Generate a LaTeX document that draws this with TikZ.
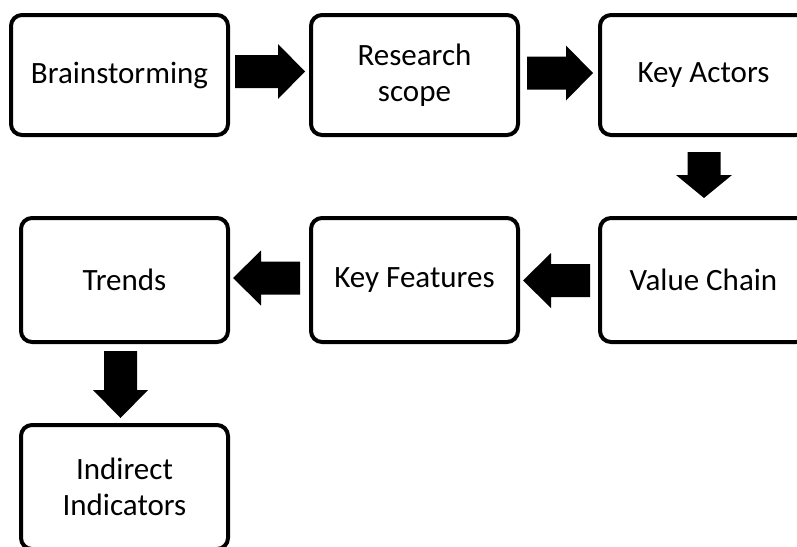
\documentclass[tikz,border=0pt]{standalone}
\usepackage{fontspec}
\setmainfont{Carlito}
\usetikzlibrary{calc}
\begin{document}
\begin{tikzpicture}[x=1pt,y=-1pt,
  stepbox/.style={draw=black, line width=4pt, rounded corners=11pt, fill=white,
    minimum width=207pt, minimum height=124pt, align=center, inner sep=0pt,
    font=\fontsize{31}{36}\selectfont},
  pics/fatarrow/.style n args={3}{code={
    % block arrow: total length #1, head length #2, head half-width #3
    \fill[black] (0,-16.5) -- ({#1-#2},-16.5) -- ({#1-#2},-#3) -- (#1,0)
      -- ({#1-#2},#3) -- ({#1-#2},16.5) -- (0,16.5) -- cycle;}}]
\useasboundingbox (0,0) rectangle (797,546);
\clip (0,0) rectangle (797,546);

% first row
\node[stepbox, minimum width=217pt, minimum height=120pt] (brain) at (119.5,75) {Brainstorming};
\node[stepbox, minimum height=120pt] (scope) at (414.5,75) {Research\\scope};
\node[stepbox, minimum height=120pt] (actors) at (703.5,75) {Key Actors};

% second row
\node[stepbox] (trends) at (124.5,280) {Trends};
\node[stepbox] (features) at (414.5,280) {Key Features};
\node[stepbox] (chain) at (703.5,280) {Value Chain};

% third row
\node[stepbox] (indirect) at (124.5,487) {Indirect\\Indicators};

% block arrows between the steps
\pic at ($(brain.east)+(5,-3.5)$) {fatarrow={70}{27}{27.5}};
\pic at ($(scope.east)+(7,-2)$) {fatarrow={66}{27}{27.5}};
\pic[rotate=-90] at ($(actors.south)+(0.5,15)$) {fatarrow={46}{23}{28}};
\pic[rotate=180] at ($(chain.west)+(-8,0.5)$) {fatarrow={67}{28}{27.5}};
\pic[rotate=180] at ($(features.west)+(-9,-2)$) {fatarrow={67}{28}{27.5}};
\pic[rotate=-90] at ($(trends.south)+(-4,7)$) {fatarrow={67}{28}{27.5}};
\end{tikzpicture}
\end{document}
